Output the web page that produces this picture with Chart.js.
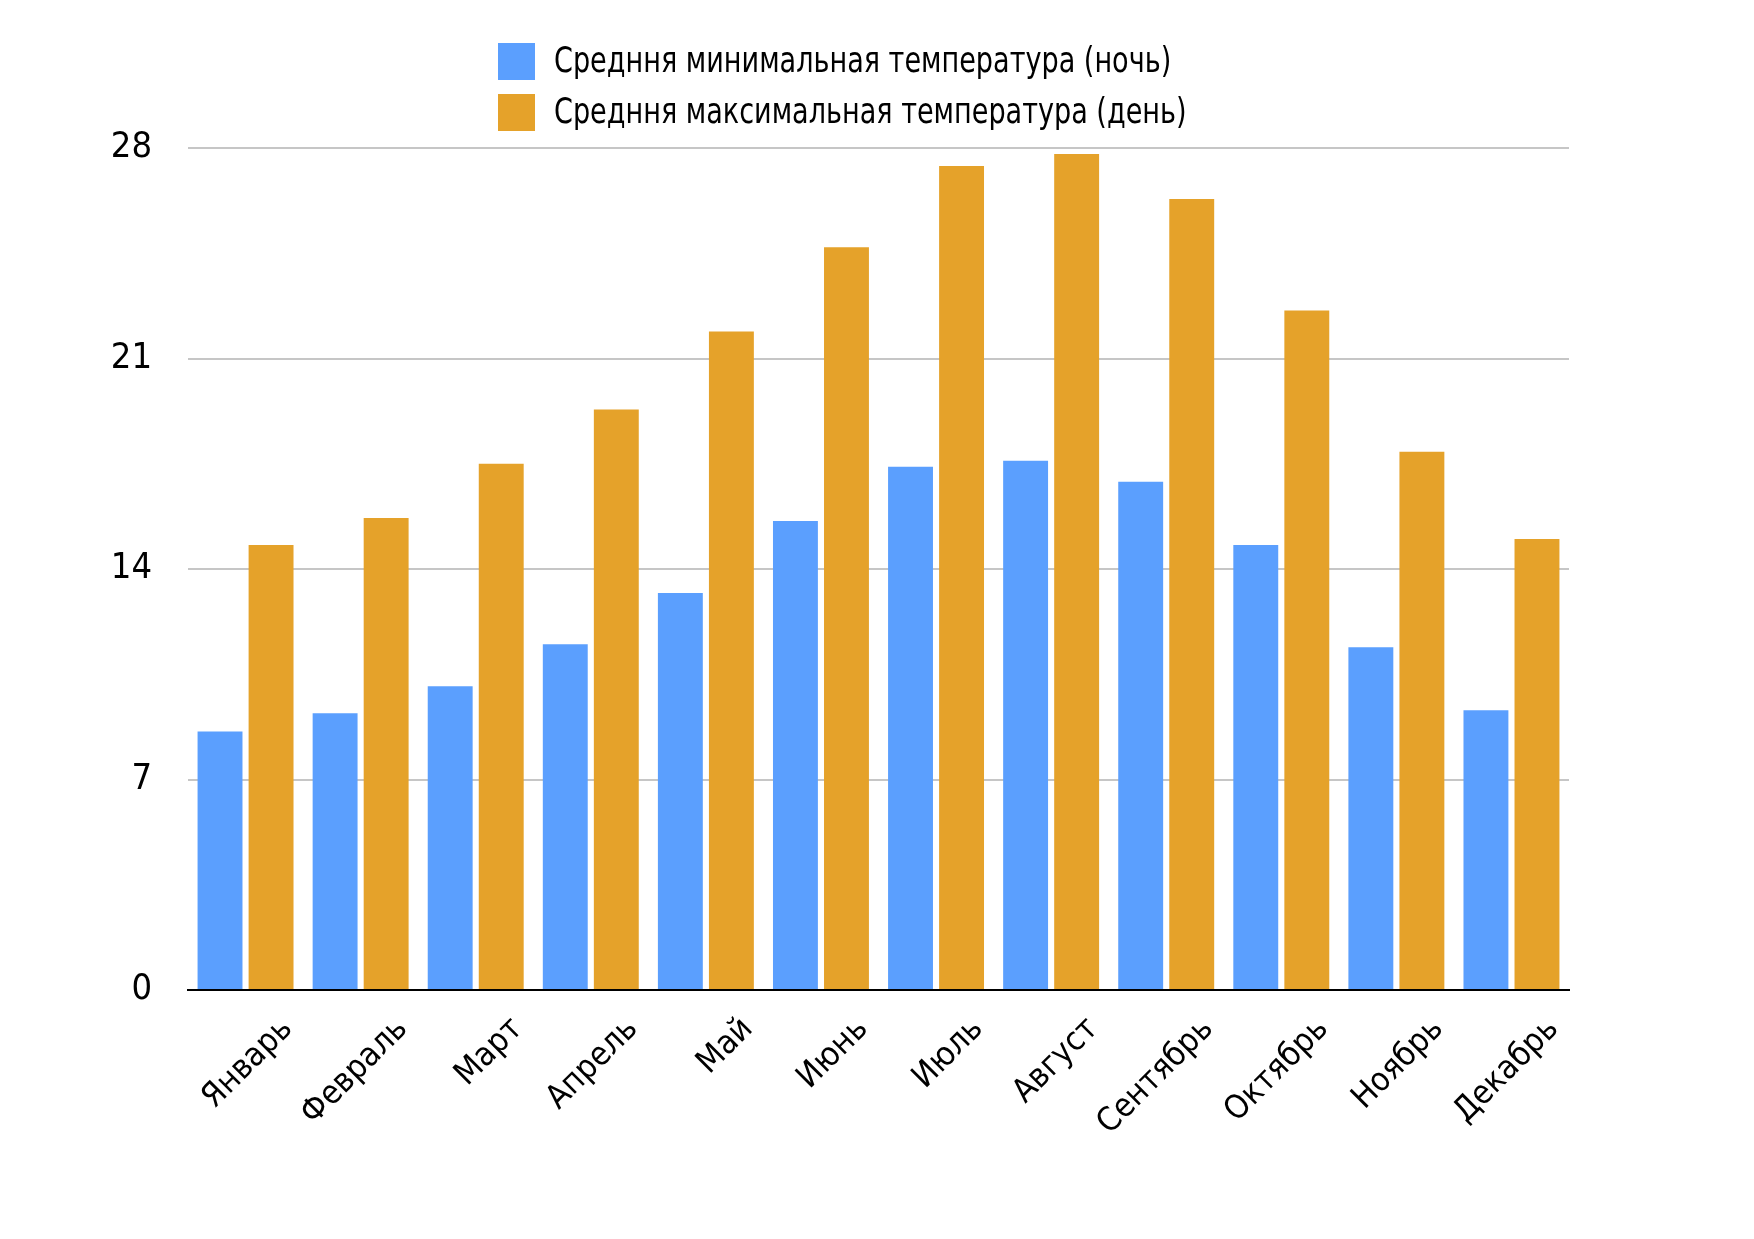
<!DOCTYPE html>
<html lang="ru">
<head>
<meta charset="UTF-8">
<title>Средняя температура по месяцам</title>
<script src="https://cdn.jsdelivr.net/npm/chart.js"></script>
<style>
    body { margin: 0; background: #fff; }
    .chart-box { width: 1754px; height: 1239px; position: relative; }
</style>
</head>
<body>
<div class="chart-box"><canvas id="tempChart"></canvas></div>
<script>
    const months = ['Январь', 'Февраль', 'Март', 'Апрель', 'Май', 'Июнь',
        'Июль', 'Август', 'Сентябрь', 'Октябрь', 'Ноябрь', 'Декабрь'];
    const minTemps = [8.6, 9.2, 10.1, 11.5, 13.2, 15.6, 17.4, 17.6, 16.9, 14.8, 11.4, 9.3];
    const maxTemps = [14.8, 15.7, 17.5, 19.3, 21.9, 24.7, 27.4, 27.8, 26.3, 22.6, 17.9, 15.0];
    const yTicks = [0, 7, 14, 21, 28];

    const FONT = '"Liberation Sans Narrow", "DejaVu Sans Condensed", "Noto Sans", sans-serif';

    // legend stacked in two rows, left aligned, like the original
    const stackedLegend = {
        id: 'stackedLegend',
        afterDraw(chart) {
            const ctx = chart.ctx;
            const x0 = 498, y0 = 43, box = 37, rowGap = 51;
            const squeeze = 0.86; // the original font is narrower
            ctx.save();
            ctx.font = '35px ' + FONT;
            ctx.textBaseline = 'middle';
            chart.data.datasets.forEach((ds, i) => {
                const y = y0 + i * rowGap;
                ctx.fillStyle = ds.backgroundColor;
                ctx.fillRect(x0, y, box, box);
                ctx.fillStyle = '#000';
                ctx.save();
                ctx.translate(x0 + box + 19, y + box / 2 + 1);
                ctx.scale(squeeze, 1);
                ctx.fillText(ds.label, 0, 0);
                ctx.restore();
            });
            ctx.restore();
        }
    };

    const ctx = document.getElementById('tempChart').getContext('2d');
    new Chart(ctx, {
        type: 'bar',
        data: {
            labels: months,
            datasets: [
                { label: 'Средння минимальная температура (ночь)', data: minTemps, backgroundColor: '#5b9ffe' },
                { label: 'Средння максимальная температура (день)', data: maxTemps, backgroundColor: '#e5a22a' }
            ]
        },
        options: {
            responsive: true,
            maintainAspectRatio: false,
            animation: false,
            categoryPercentage: 0.887,
            barPercentage: 0.88,
            layout: { padding: { top: 148, right: 185, left: 0, bottom: 0 } },
            plugins: {
                legend: { display: false },
                tooltip: { enabled: false }
            },
            scales: {
                x: {
                    grid: { display: false },
                    border: { color: '#000', width: 2 },
                    ticks: {
                        color: '#000',
                        font: { family: FONT, size: 33 },
                        maxRotation: 45,
                        minRotation: 45,
                        labelOffset: 42,
                        padding: 12
                    },
                    afterFit(scale) { scale.height = 249; }
                },
                y: {
                    min: 0,
                    max: 28,
                    afterBuildTicks(scale) { scale.ticks = yTicks.map(v => ({ value: v })); },
                    grid: { color: '#c6c6c6', lineWidth: 2, drawTicks: false },
                    border: { display: false },
                    ticks: {
                        color: '#000',
                        font: { family: FONT, size: 36 },
                        padding: 36
                    },
                    afterFit(scale) { scale.width = 188; }
                }
            }
        },
        plugins: [stackedLegend]
    });
</script>
</body>
</html>
